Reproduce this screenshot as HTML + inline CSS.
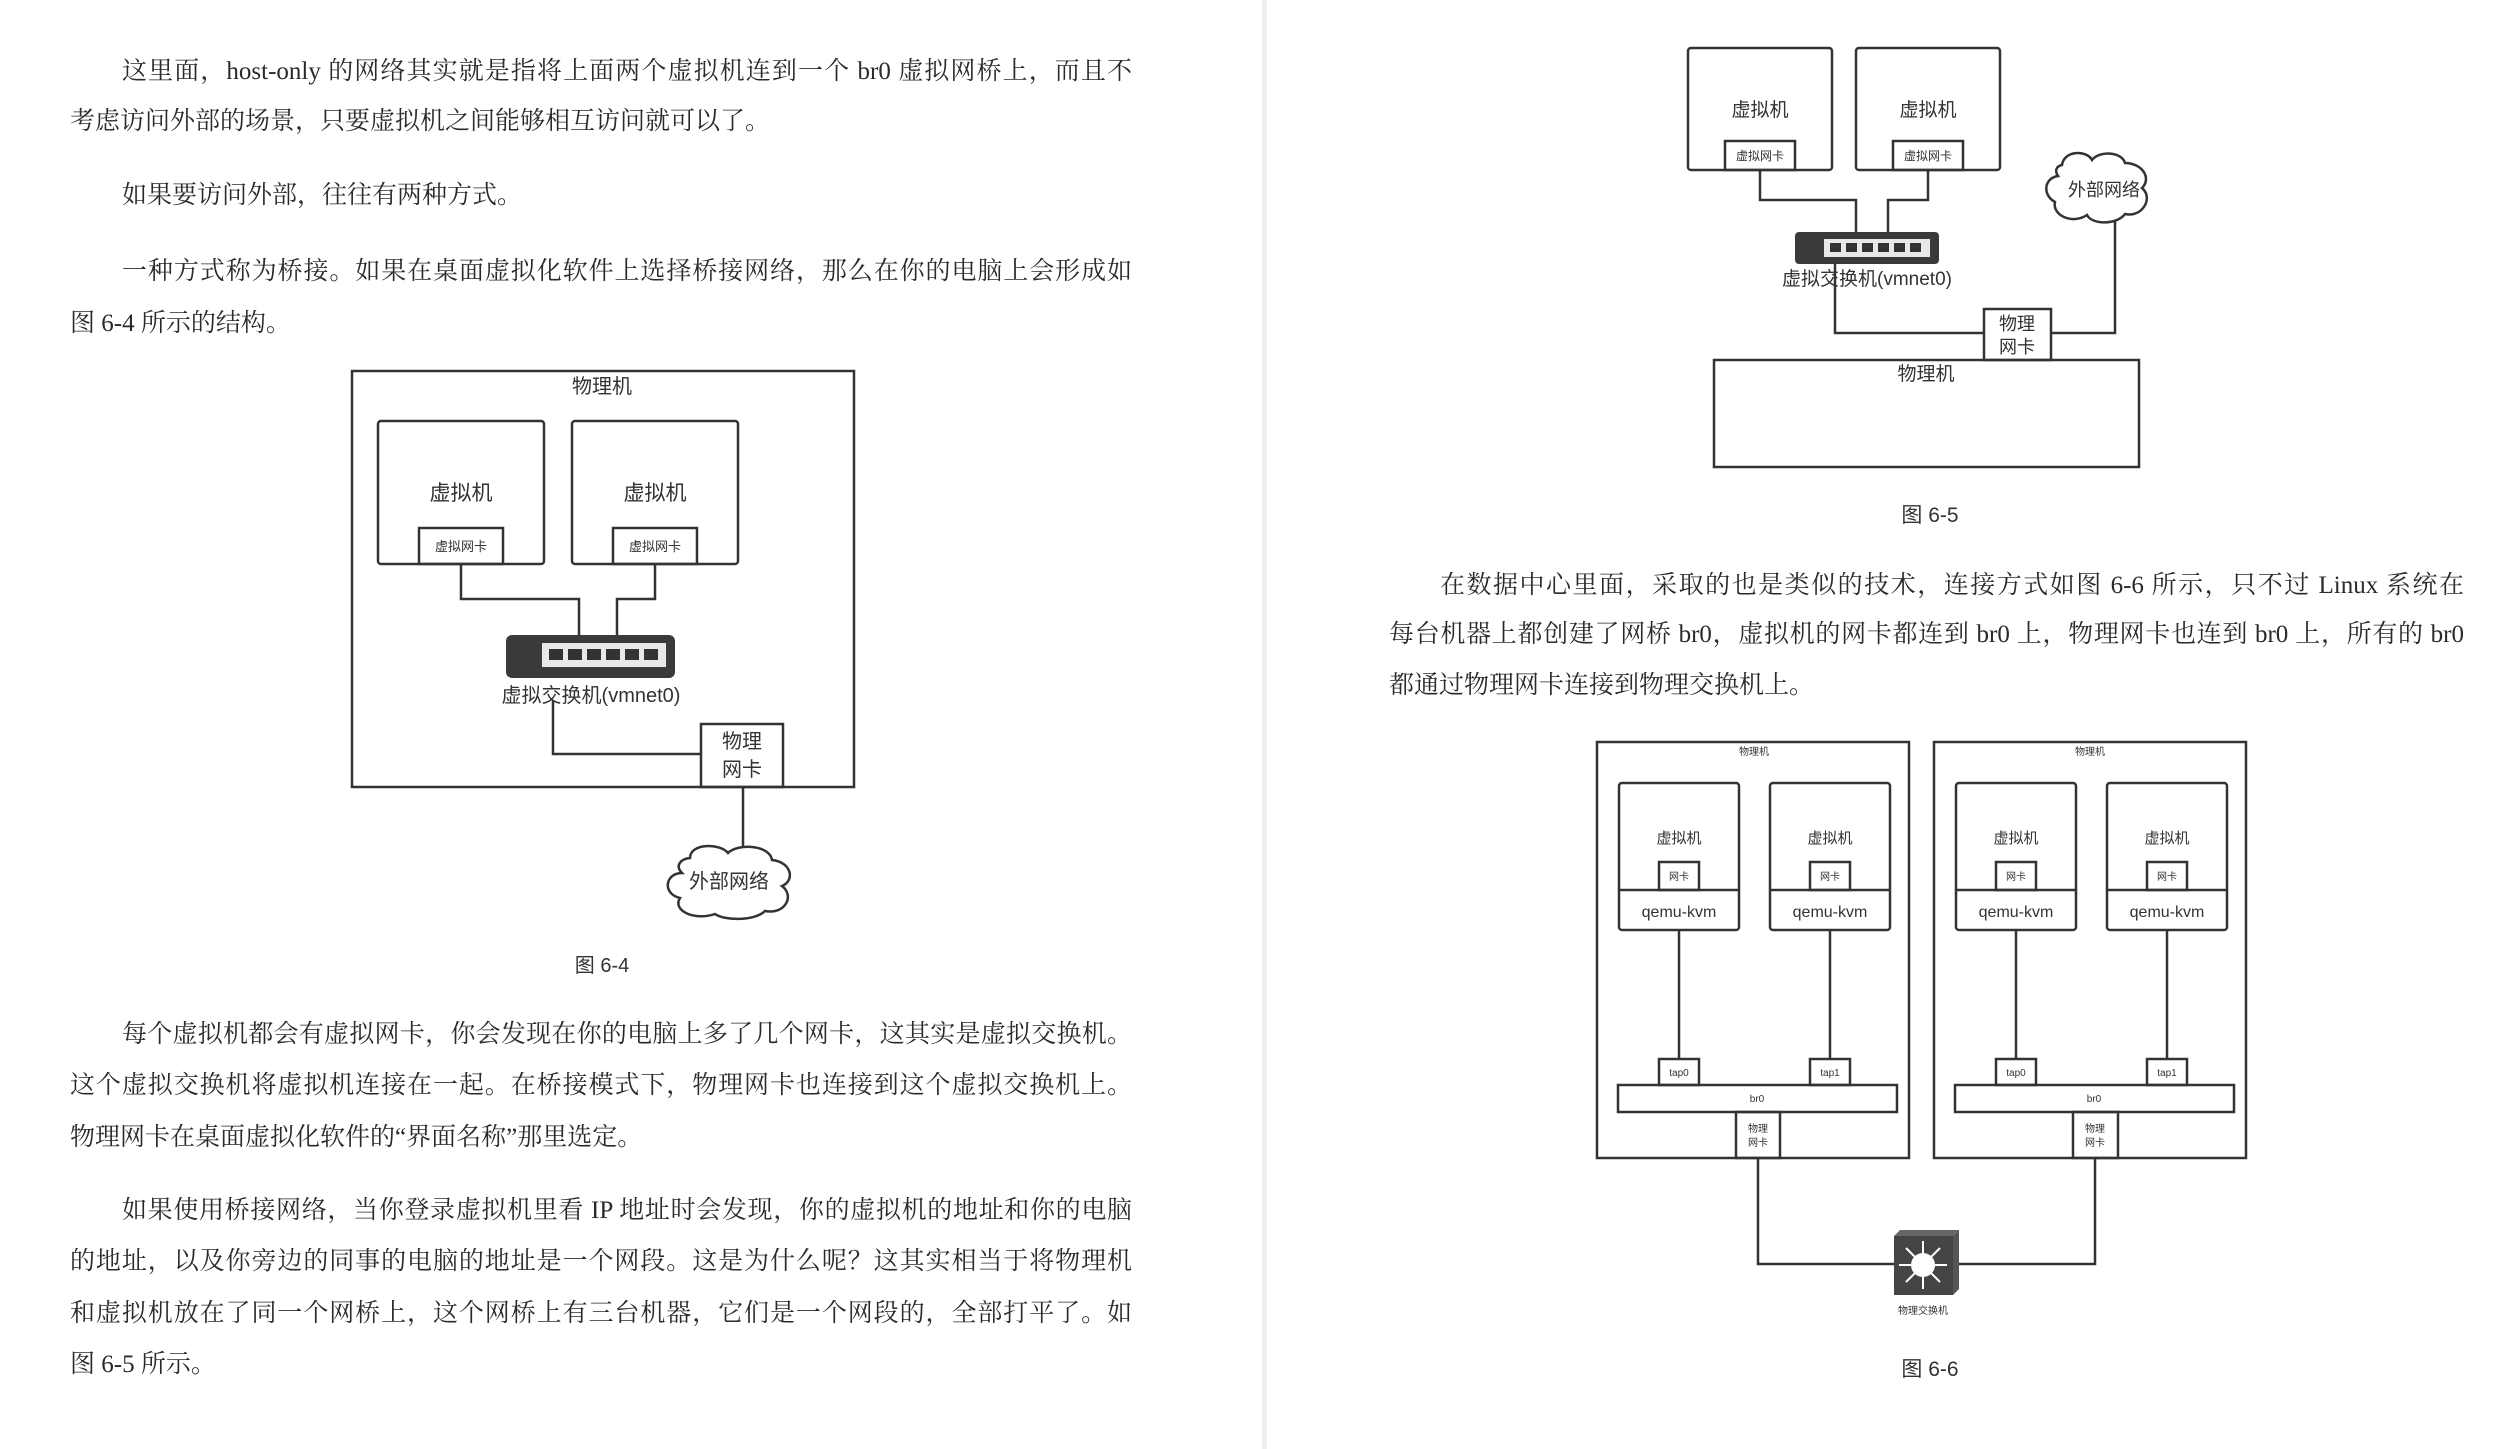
<!DOCTYPE html>
<html><head><meta charset="utf-8">
<style>
html,body{margin:0;padding:0;background:#fff;}
body{width:2497px;height:1449px;position:relative;overflow:hidden;}
.t{position:absolute;font-family:"Liberation Serif","Noto Serif CJK SC",serif;font-size:25px;color:#2a2a2a;line-height:36px;white-space:nowrap;}
.j{text-align:justify;text-align-last:justify;}
svg{position:absolute;left:0;top:0;}
svg text{font-family:"Liberation Sans","Noto Sans CJK SC",sans-serif;fill:#333;}
</style></head><body>
<svg width="2497" height="1449" viewBox="0 0 2497 1449">
<rect x="1262" y="0" width="5" height="1449" fill="#eef0f3"/>
<g fill="none" stroke="#333" stroke-width="2.5">
<rect x="352" y="371" width="502" height="416"/>
<rect x="378" y="421" width="166" height="143" rx="3"/>
<rect x="572" y="421" width="166" height="143" rx="3"/>
<rect x="419" y="528" width="84" height="36"/>
<rect x="613" y="528" width="84" height="36"/>
<polyline points="461,564 461,599 579,599 579,635"/>
<polyline points="655,564 655,599 617,599 617,635"/>
<polyline points="553,700 553,754 701,754"/>
<rect x="701" y="724" width="82" height="63"/>
<line x1="743" y1="787" x2="743" y2="848"/>
<path d="M690,858 C690,843 720,843 728,853 C738,843 770,845 772,860 C792,862 795,881 782,886 C795,896 785,915 765,911 C755,921 725,921 715,914 C695,921 672,911 680,898 C662,894 665,873 682,873 C675,866 680,859 690,858 Z"/>
<rect x="1688" y="48" width="144" height="122" rx="3"/>
<rect x="1856" y="48" width="144" height="122" rx="3"/>
<rect x="1725" y="141" width="70" height="29"/>
<rect x="1893" y="141" width="70" height="29"/>
<polyline points="1760,170 1760,200 1856,200 1856,232"/>
<polyline points="1928,170 1928,200 1888,200 1888,232"/>
<polyline points="1835,264 1835,333 1984,333"/>
<rect x="1984" y="309" width="67" height="51"/>
<polyline points="2051,333 2115,333 2115,220"/>
<rect x="1714" y="360" width="425" height="107"/>
<path d="M2062,165 C2064,150 2087,150 2092,160 C2100,150 2122,152 2125,163 C2142,163 2152,178 2142,188 C2154,198 2142,218 2125,214 C2117,225 2092,225 2087,215 C2072,225 2052,215 2055,202 C2042,195 2044,178 2058,176 C2054,170 2057,166 2062,165 Z"/>
<rect x="1597" y="742" width="312" height="416"/>
<rect x="1934" y="742" width="312" height="416"/>
<g id="vm">
<rect x="1619" y="783" width="120" height="147" rx="3"/>
<line x1="1619" y1="890" x2="1739" y2="890"/>
<rect x="1659" y="862" width="40" height="28"/>
<line x1="1679" y1="930" x2="1679" y2="1059"/>
<rect x="1659" y="1059" width="40" height="26"/>
</g>
<use href="#vm" x="151"/>
<use href="#vm" x="337"/>
<use href="#vm" x="488"/>
<rect x="1618" y="1085" width="279" height="27"/>
<rect x="1955" y="1085" width="279" height="27"/>
<rect x="1736" y="1112" width="44" height="46"/>
<rect x="2073" y="1112" width="45" height="46"/>
<polyline points="1758,1158 1758,1264 1894,1264"/>
<polyline points="2095,1158 2095,1264 1953,1264"/>
</g>
<rect x="506" y="635" width="169" height="43" rx="6" fill="#3a3a3a"/>
<rect x="542" y="643" width="124" height="24" fill="#e8e8e8"/>
<g fill="#333"><rect x="549" y="649" width="14" height="11"/><rect x="568" y="649" width="14" height="11"/><rect x="587" y="649" width="14" height="11"/><rect x="606" y="649" width="14" height="11"/><rect x="625" y="649" width="14" height="11"/><rect x="644" y="649" width="14" height="11"/></g>
<rect x="1795" y="232" width="144" height="32" rx="4" fill="#3a3a3a"/>
<rect x="1824" y="239" width="106" height="18" fill="#e8e8e8"/>
<g fill="#333"><rect x="1830" y="243" width="11" height="9"/><rect x="1846" y="243" width="11" height="9"/><rect x="1862" y="243" width="11" height="9"/><rect x="1878" y="243" width="11" height="9"/><rect x="1894" y="243" width="11" height="9"/><rect x="1910" y="243" width="11" height="9"/></g>
<rect x="1894" y="1236" width="59" height="59" fill="#444"/>
<polygon points="1894,1236 1900,1230 1959,1230 1953,1236" fill="#666"/>
<polygon points="1953,1236 1959,1230 1959,1289 1953,1295" fill="#555"/>
<circle cx="1923" cy="1265" r="12" fill="#fff"/>
<g stroke="#fff" stroke-width="2"><line x1="1923" y1="1241" x2="1923" y2="1289"/><line x1="1899" y1="1265" x2="1947" y2="1265"/><line x1="1906" y1="1248" x2="1940" y2="1282"/><line x1="1940" y1="1248" x2="1906" y2="1282"/></g>
<g text-anchor="middle">
<text x="602" y="393" font-size="20">物理机</text>
<text x="461" y="500" font-size="21">虚拟机</text>
<text x="655" y="500" font-size="21">虚拟机</text>
<text x="461" y="551" font-size="13">虚拟网卡</text>
<text x="655" y="551" font-size="13">虚拟网卡</text>
<text x="591" y="702" font-size="20">虚拟交换机(vmnet0)</text>
<text x="742" y="748" font-size="20">物理</text>
<text x="742" y="776" font-size="20">网卡</text>
<text x="729" y="888" font-size="20">外部网络</text>
<text x="602" y="972" font-size="20">图 6-4</text>
<text x="1760" y="116" font-size="19">虚拟机</text>
<text x="1928" y="116" font-size="19">虚拟机</text>
<text x="1760" y="160" font-size="12">虚拟网卡</text>
<text x="1928" y="160" font-size="12">虚拟网卡</text>
<text x="1867" y="285" font-size="19">虚拟交换机(vmnet0)</text>
<text x="2017" y="330" font-size="18">物理</text>
<text x="2017" y="353" font-size="18">网卡</text>
<text x="2104" y="196" font-size="18">外部网络</text>
<text x="1926" y="380" font-size="19">物理机</text>
<text x="1930" y="522" font-size="21">图 6-5</text>
<text x="1754" y="755" font-size="10">物理机</text>
<text x="2090" y="755" font-size="10">物理机</text>
<text x="1679" y="843" font-size="15">虚拟机</text>
<text x="1830" y="843" font-size="15">虚拟机</text>
<text x="2016" y="843" font-size="15">虚拟机</text>
<text x="2167" y="843" font-size="15">虚拟机</text>
<text x="1679" y="880" font-size="10">网卡</text>
<text x="1830" y="880" font-size="10">网卡</text>
<text x="2016" y="880" font-size="10">网卡</text>
<text x="2167" y="880" font-size="10">网卡</text>
<text x="1679" y="917" font-size="16">qemu-kvm</text>
<text x="1830" y="917" font-size="16">qemu-kvm</text>
<text x="2016" y="917" font-size="16">qemu-kvm</text>
<text x="2167" y="917" font-size="16">qemu-kvm</text>
<text x="1679" y="1076" font-size="10">tap0</text>
<text x="1830" y="1076" font-size="10">tap1</text>
<text x="2016" y="1076" font-size="10">tap0</text>
<text x="2167" y="1076" font-size="10">tap1</text>
<text x="1757" y="1102" font-size="10">br0</text>
<text x="2094" y="1102" font-size="10">br0</text>
<text x="1758" y="1132" font-size="10">物理</text>
<text x="1758" y="1146" font-size="10">网卡</text>
<text x="2095" y="1132" font-size="10">物理</text>
<text x="2095" y="1146" font-size="10">网卡</text>
<text x="1923" y="1314" font-size="10">物理交换机</text>
<text x="1930" y="1376" font-size="21">图 6-6</text>
</g>
</svg>

<div class="t j" style="left:122px;top:54px;width:1010px">这里面，host-only 的网络其实就是指将上面两个虚拟机连到一个 br0 虚拟网桥上，而且不</div>
<div class="t" style="left:70px;top:104px">考虑访问外部的场景，只要虚拟机之间能够相互访问就可以了。</div>
<div class="t" style="left:122px;top:178px">如果要访问外部，往往有两种方式。</div>
<div class="t j" style="left:122px;top:254px;width:1010px">一种方式称为桥接。如果在桌面虚拟化软件上选择桥接网络，那么在你的电脑上会形成如</div>
<div class="t" style="left:70px;top:306px">图 6-4 所示的结构。</div>

<div class="t j" style="left:122px;top:1017px;width:1010px">每个虚拟机都会有虚拟网卡，你会发现在你的电脑上多了几个网卡，这其实是虚拟交换机。</div>
<div class="t j" style="left:70px;top:1068px;width:1062px">这个虚拟交换机将虚拟机连接在一起。在桥接模式下，物理网卡也连接到这个虚拟交换机上。</div>
<div class="t" style="left:70px;top:1120px">物理网卡在桌面虚拟化软件的“界面名称”那里选定。</div>
<div class="t j" style="left:122px;top:1193px;width:1010px">如果使用桥接网络，当你登录虚拟机里看 IP 地址时会发现，你的虚拟机的地址和你的电脑</div>
<div class="t j" style="left:70px;top:1244px;width:1062px">的地址，以及你旁边的同事的电脑的地址是一个网段。这是为什么呢？这其实相当于将物理机</div>
<div class="t j" style="left:70px;top:1296px;width:1062px">和虚拟机放在了同一个网桥上，这个网桥上有三台机器，它们是一个网段的，全部打平了。如</div>
<div class="t" style="left:70px;top:1347px">图 6-5 所示。</div>

<div class="t j" style="left:1440px;top:568px;width:1024px">在数据中心里面，采取的也是类似的技术，连接方式如图 6-6 所示，只不过 Linux 系统在</div>
<div class="t j" style="left:1389px;top:617px;width:1075px">每台机器上都创建了网桥 br0，虚拟机的网卡都连到 br0 上，物理网卡也连到 br0 上，所有的 br0</div>
<div class="t" style="left:1389px;top:668px">都通过物理网卡连接到物理交换机上。</div>
</body></html>
